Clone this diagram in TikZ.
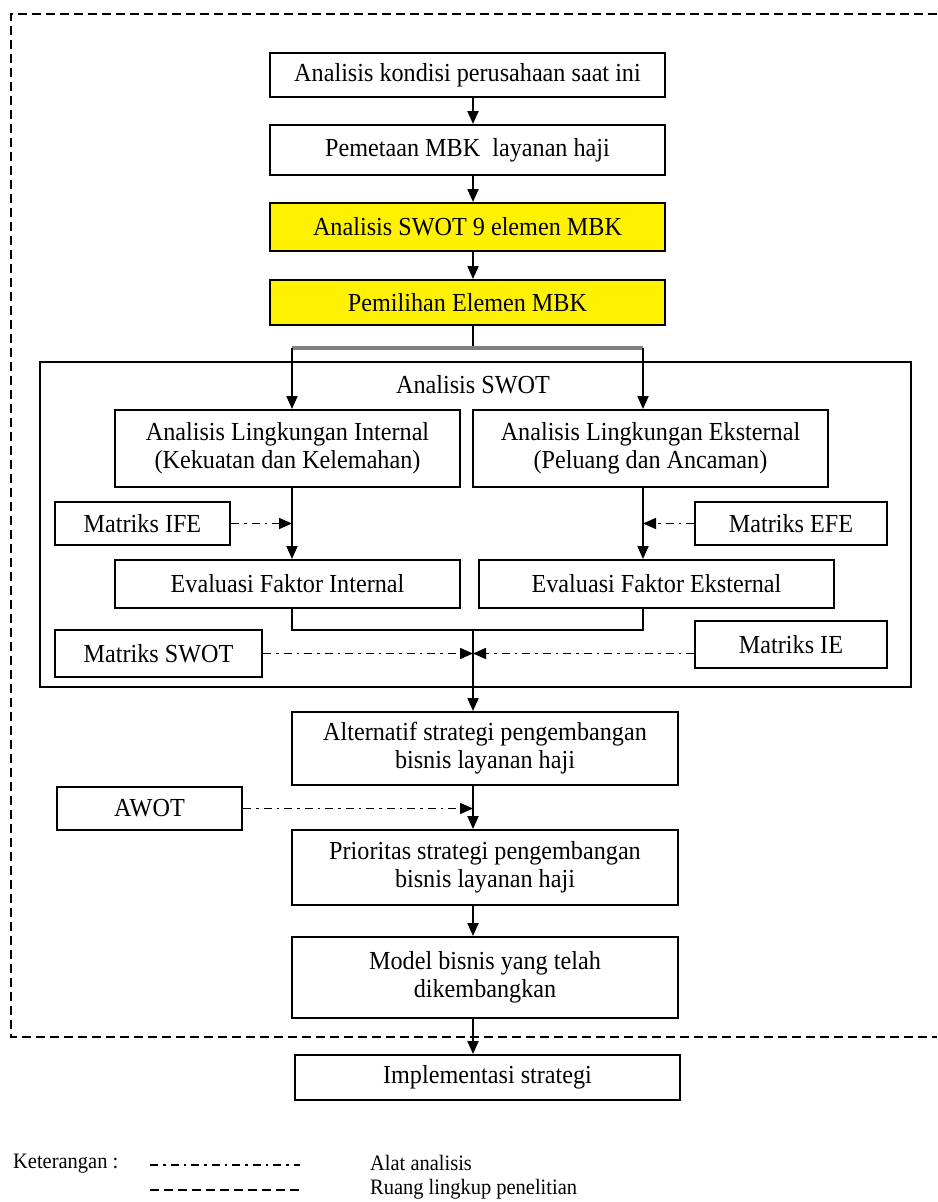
\documentclass[tikz,border=0pt]{standalone}
\usepackage{fontspec}
\setmainfont{Liberation Serif}[FakeStretch=0.93]
\usetikzlibrary{arrows.meta,calc}
\begin{document}
\begin{tikzpicture}[x=1pt,y=-1pt,
  every node/.style={font=\fontsize{26}{28}\selectfont},
  box/.style={draw, line width=2pt, align=center, inner sep=0pt},
  ybox/.style={box, fill=yellow},
  conn/.style={line width=2pt},
  arr/.style={conn, -{Triangle[length=13pt,width=11pt]}},
  tool/.style={line width=1.6pt, dash pattern=on 8pt off 5pt on 2.5pt off 5pt, -{Triangle[length=13pt,width=11pt]}},
  scope/.style={line width=2pt, dash pattern=on 9pt off 5pt},
  legtext/.style={anchor=west, inner sep=0pt, font=\fontsize{22}{24}\selectfont}
]
\useasboundingbox (0,0) rectangle (937,1202);
\fill[white] (0,0) rectangle (937,1202);
% outer research-scope frame
\draw[scope] (937,14) -- (11,14) -- (11,1037) -- (937,1037);
% axis coordinates
\coordinate (ax) at (473,0);
\coordinate (xl) at (292,0);
\coordinate (xr) at (643,0);
\coordinate (split) at (473,348);
\coordinate (merge) at (473,630);

\node[box, minimum width=395, minimum height=44] (b1) at (467.5,75) {Analisis kondisi perusahaan saat ini};
\node[box, minimum width=395, minimum height=50] (b2) at (467.5,150) {Pemetaan MBK\ \ layanan haji};
\node[ybox, minimum width=395, minimum height=48] (b3) at (467.5,227) {Analisis SWOT 9 elemen MBK};
\node[ybox, minimum width=395, minimum height=45] (b4) at (467.5,302.5) {Pemilihan Elemen MBK};

\node[box, minimum width=871, minimum height=325] (swot) at (475.5,524.5) {};
\node (swott) at (473,385) {Analisis SWOT};

\node[box, minimum width=345, minimum height=77] (int) at (287.5,448.5) {Analisis Lingkungan Internal\\(Kekuatan dan Kelemahan)};
\node[box, minimum width=355, minimum height=77] (ext) at (650.5,448.5) {Analisis Lingkungan Eksternal\\(Peluang dan Ancaman)};
\node[box, minimum width=175, minimum height=43] (ife) at (142.5,523.5) {Matriks IFE};
\node[box, minimum width=192, minimum height=43] (efe) at (791,523.5) {Matriks EFE};
\node[box, minimum width=345, minimum height=48] (evi) at (287.5,584) {Evaluasi Faktor Internal};
\node[box, minimum width=355, minimum height=48] (eve) at (656.5,584) {Evaluasi Faktor Eksternal};
\node[box, minimum width=207, minimum height=47] (msw) at (158.5,653.5) {Matriks SWOT};
\node[box, minimum width=192, minimum height=47] (mie) at (791,644.5) {Matriks IE};

\node[box, minimum width=386, minimum height=73] (alt) at (485,748.5) {Alternatif strategi pengembangan\\bisnis layanan haji};
\node[box, minimum width=185, minimum height=43] (awot) at (149.5,808.5) {AWOT};
\node[box, minimum width=386, minimum height=75] (prio) at (485,867.5) {Prioritas strategi pengembangan\\bisnis layanan haji};
\node[box, minimum width=386, minimum height=81] (model) at (485,977.5) {Model bisnis yang telah\\dikembangkan};
\node[box, minimum width=385, minimum height=45] (impl) at (487.5,1077.5) {Implementasi strategi};

% main flow
\draw[arr] (b1.south -| ax) -- (b2.north -| ax);
\draw[arr] (b2.south -| ax) -- (b3.north -| ax);
\draw[arr] (b3.south -| ax) -- (b4.north -| ax);
\draw[conn] (b4.south -| ax) -- (split);
\draw[line width=3.5pt, black!50] (xl |- split) -- (xr |- split);
\draw[arr] (xl |- split) -- (int.north -| xl);
\draw[arr] (xr |- split) -- (ext.north -| xr);
\draw[arr] (int.south -| xl) -- (evi.north -| xl);
\draw[arr] (ext.south -| xr) -- (eve.north -| xr);
\draw[conn] (evi.south -| xl) -- (xl |- merge) -- (xr |- merge) -- (eve.south -| xr);
\draw[arr] (merge) -- (alt.north -| ax);
\draw[arr] (alt.south -| ax) -- (prio.north -| ax);
\draw[arr] (prio.south -| ax) -- (model.north -| ax);
\draw[arr] (model.south -| ax) -- (impl.north -| ax);

% analysis tools
\draw[tool] (ife.east) -- (ife.east -| xl);
\draw[tool] (efe.west) -- (efe.west -| xr);
\draw[tool] (msw.east) -- (msw.east -| ax);
\draw[tool] (mie.west |- msw.east) -- (ax |- msw.east);
\draw[tool] (awot.east) -- (awot.east -| ax);

% legend
\node[legtext] (ket) at (13,1164) {Keterangan :};
\coordinate (l1a) at (150,1165);
\coordinate (l1b) at (300,1165);
\coordinate (l2a) at (150,1190);
\coordinate (l2b) at (300,1190);
\draw[line width=1.6pt, dash pattern=on 8pt off 5pt on 2.5pt off 5pt] (l1a) -- (l1b);
\draw[scope] (l2a) -- (l2b);
\node[legtext] (lt1) at (370,1163) {Alat analisis};
\node[legtext] (lt2) at (370,1189) {Ruang lingkup penelitian};
\end{tikzpicture}
\end{document}
